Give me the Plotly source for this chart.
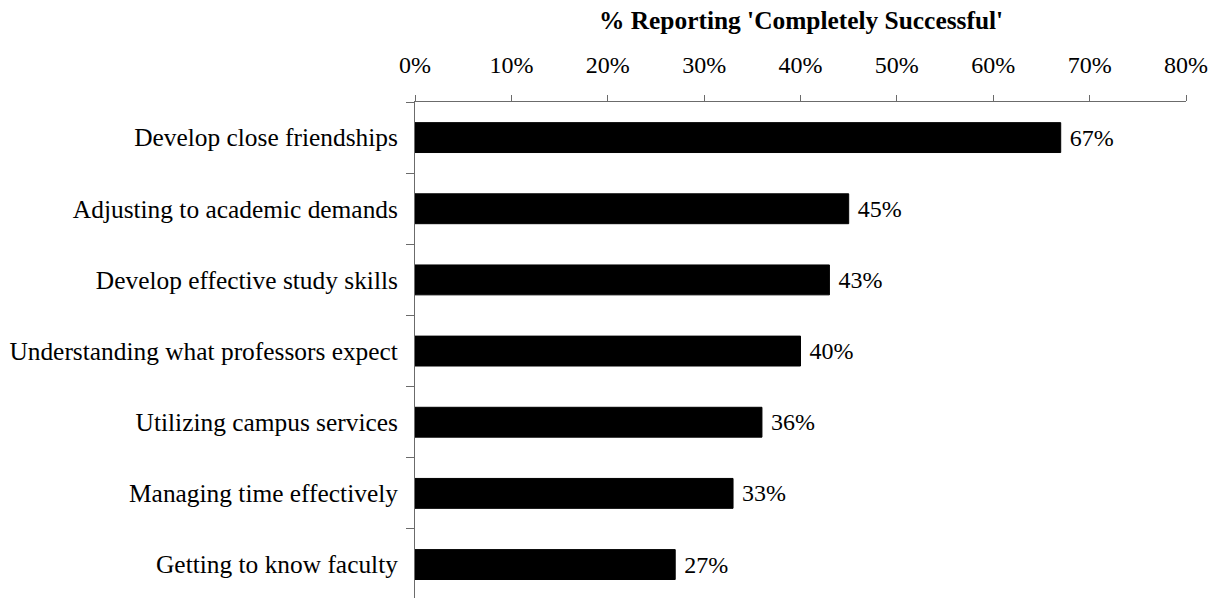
import plotly.graph_objects as go

categories = [
    "Develop close friendships",
    "Adjusting to academic demands",
    "Develop effective study skills",
    "Understanding what professors expect",
    "Utilizing campus services",
    "Managing time effectively",
    "Getting to know faculty",
]
pct_completely_successful = [67, 45, 43, 40, 36, 33, 27]
x_tick_values = [0, 10, 20, 30, 40, 50, 60, 70, 80]
x_tick_labels = ["0%", "10%", "20%", "30%", "40%", "50%", "60%", "70%", "80%"]

FONT = "Liberation Serif, Times New Roman, serif"
AXIS_COLOR = "#6b6b6b"

fig = go.Figure(
    go.Bar(
        x=pct_completely_successful,
        y=categories,
        orientation="h",
        marker=dict(color="black", line=dict(color="black", width=1)),
        text=[f" {v}%" for v in pct_completely_successful],
        textposition="outside",
        textfont=dict(family=FONT, size=24, color="black"),
        cliponaxis=False,
        width=0.42,
    )
)

fig.update_layout(
    width=1217,
    height=598,
    margin=dict(l=415, r=31, t=102, b=0),
    paper_bgcolor="white",
    plot_bgcolor="white",
    showlegend=False,
    font=dict(family=FONT, size=24, color="black"),
    xaxis=dict(
        side="top",
        range=[0, 80],
        tickvals=x_tick_values,
        ticktext=x_tick_labels,
        ticks="outside",
        ticklen=6,
        tickcolor=AXIS_COLOR,
        showline=True,
        linecolor=AXIS_COLOR,
        linewidth=1,
        showgrid=False,
        zeroline=False,
        tickfont=dict(family=FONT, size=24, color="black"),
        ticklabelstandoff=12,
    ),
    yaxis=dict(
        categoryorder="array",
        categoryarray=categories,
        range=[6.47, -0.5],
        ticks="outside",
        tickson="boundaries",
        ticklen=8,
        tickcolor=AXIS_COLOR,
        showline=True,
        linecolor=AXIS_COLOR,
        linewidth=1,
        showgrid=False,
        tickfont=dict(family=FONT, size=25.4, color="black"),
        ticklabelstandoff=11,
    ),
    annotations=[
        dict(
            text="<b>% Reporting 'Completely Successful'</b>",
            xref="paper",
            yref="paper",
            x=0.5,
            y=1.165,
            xanchor="center",
            yanchor="middle",
            showarrow=False,
            font=dict(family=FONT, size=25.4, color="black"),
        )
    ],
)

fig.write_html("out.html")
